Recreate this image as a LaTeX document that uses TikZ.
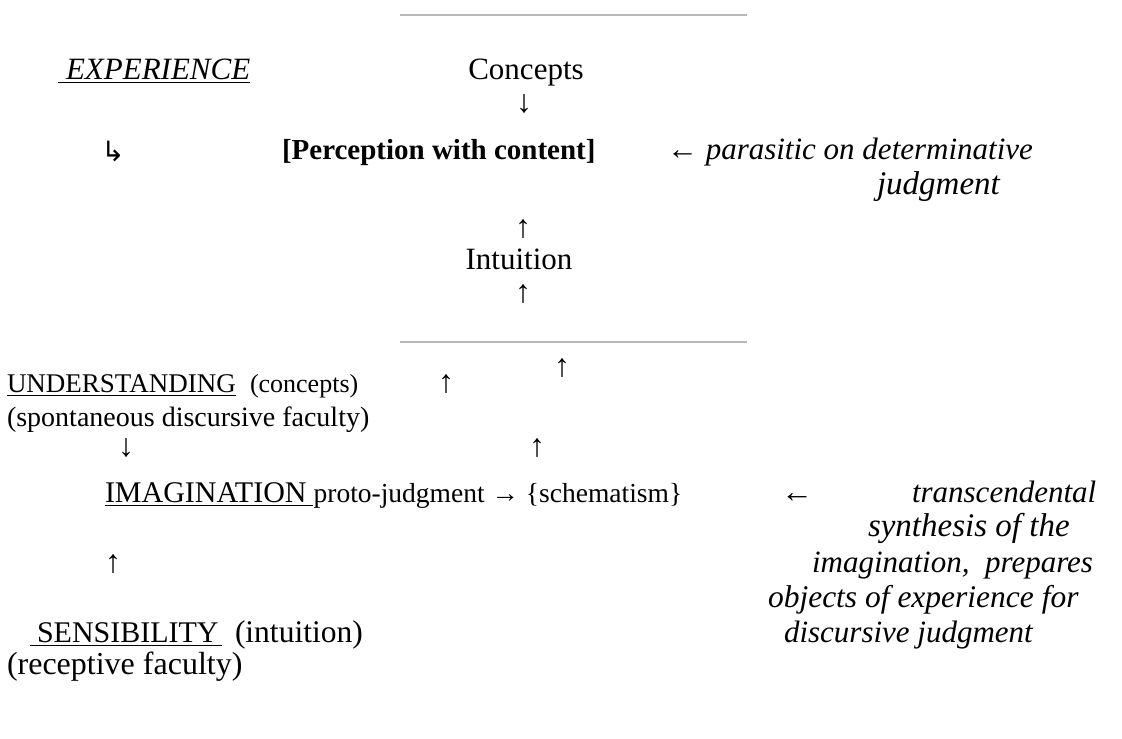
\documentclass[tikz,border=0pt]{standalone}
\usepackage{fontspec}
\setmainfont{Liberation Serif}
\newfontfamily\ser{Liberation Serif}
\newfontfamily\djv{DejaVu Sans}
\newcommand\fs[1]{\fontsize{#1}{#1}\ser}
\begin{document}
\begin{tikzpicture}[x=1pt,y=-1pt,
  every node/.style={inner sep=0pt, outer sep=0pt, text height=0.68em, text depth=0.2em},
  tm/.style={font=\fs{28}},
  gm/.style={font=\fs{31}},
  gb/.style={font=\fs{29}\bfseries},
  itx/.style={font=\fs{31}\itshape},
  arr/.style={font=\fs{32}},
  rulel/.style={draw=black!28, line width=1.5pt},
  uline/.style={draw=black, line width=1.5pt}]
\useasboundingbox (0,0) rectangle (1122,739);
% separator rules
\coordinate (r1a) at (400,15); \coordinate (r1b) at (747,15);
\coordinate (r2a) at (400,342); \coordinate (r2b) at (747,342);
\draw[rulel] (r1a) -- (r1b);
\draw[rulel] (r2a) -- (r2b);
\begin{scope}[shift={(0,7)}]
% upper part
\node[font=\fs{31}\itshape, anchor=west] (exp) at (58,70) {\hspace{8pt}EXPERIENCE};
\draw[uline] ([yshift=-3pt]exp.base west) -- ([yshift=-3pt]exp.base east);
\node[gm] (conc) at (526,70) {Concepts};
\node[arr] (a1) at (524,103) {↓};
\node[font=\fontsize{28}{28}\djv] (hook) at (113,152) {↳};
\node[gb, anchor=west] (perc) at (282,150) {[Perception with content]};
\node[itx, anchor=west] (para) at (667,150) {{\upshape\bfseries ←} parasitic on determinative};
\node[font=\fs{33}\itshape, anchor=west] (judg) at (877,185) {judgment};
\node[arr] (a2) at (523,228) {↑};
\node[gm] (intu) at (519,260) {Intuition};
\node[arr] (a3) at (523,293) {↑};
% lower part
\node[arr] (a4) at (562,367) {↑};
\node[font=\fs{27}, anchor=west] (und) at (7,383) {UNDERSTANDING};
\draw[uline] ([yshift=-3pt]und.base west) -- ([yshift=-3pt]und.base east);
\node[font=\fs{26}, anchor=west] (uc) at (250,383) {(concepts)};
\node[arr] (a5) at (446,383) {↑};
\node[tm, anchor=west] (spont) at (7,417) {(spontaneous discursive faculty)};
\node[arr] (a6) at (126,447) {↓};
\node[arr] (a7) at (537,447) {↑};
\node[font=\fs{30}, anchor=west] (imag) at (105,493) {IMAGINATION\hspace{6pt}\null};
\draw[uline] ([yshift=-3pt]imag.base west) -- ([yshift=-3pt]imag.base east);
\node[font=\fs{27.5}, anchor=base west] (proto) at ([xshift=1pt]imag.base east) {proto-judgment → \{schematism\}};
\node[arr] (a8) at (797,493) {←};
\node[itx, anchor=west] (tr1) at (912,493) {transcendental};
\node[font=\fs{33}\itshape, anchor=west] (tr2) at (868,527) {synthesis of the};
\node[arr] (a9) at (113,563) {↑};
\node[itx, anchor=west] (tr3) at (812,563) {imagination,\ \ prepares};
\node[font=\fs{31.5}\itshape, anchor=west] (tr4) at (768,598) {objects of experience for};
\node[font=\fs{30}, anchor=west] (sens) at (30,633) {\hspace{7pt}SENSIBILITY\hspace{3pt}\null};
\draw[uline] ([yshift=-3pt]sens.base west) -- ([yshift=-3pt]sens.base east);
\node[font=\fs{31.5}, anchor=west] (si) at (235,633) {(intuition)};
\node[itx, anchor=west] (tr5) at (784,633) {discursive judgment};
\node[font=\fs{32}, anchor=west] (rec) at (7,665) {(receptive faculty)};
\end{scope}
\end{tikzpicture}
\end{document}
